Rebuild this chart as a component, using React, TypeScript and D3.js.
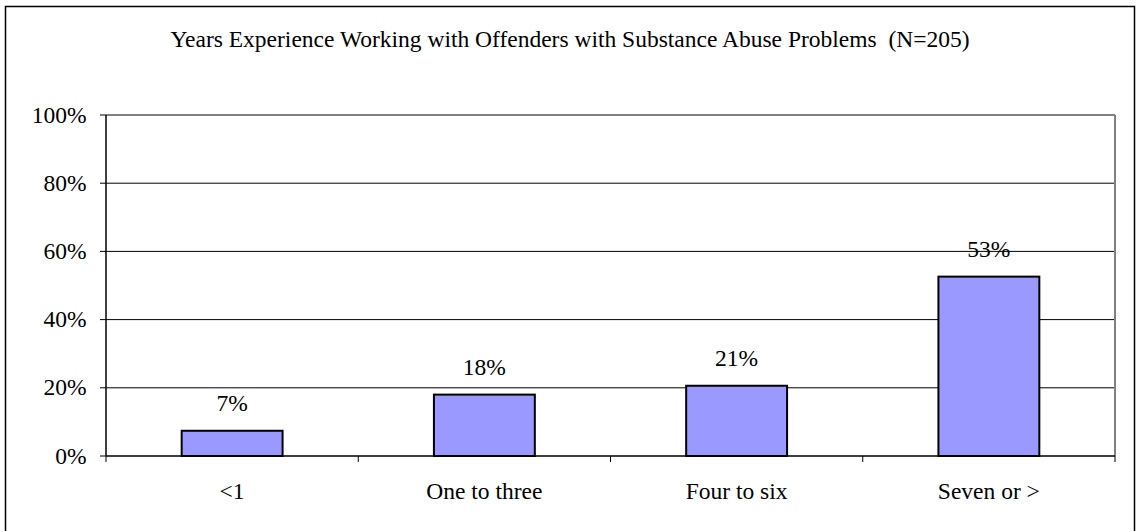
import React, { useEffect } from "react";
import * as d3 from "d3";

const categories = ["<1", "One to three", "Four to six", "Seven or >"];
const values = [7.4, 18.0, 20.6, 52.6];
const valueLabels = ["7%", "18%", "21%", "53%"];
const yTicks = [0, 20, 40, 60, 80, 100];
const title = "Years Experience Working with Offenders with Substance Abuse Problems\u00a0\u00a0(N=205)";

export default function App() {
  useEffect(() => {
    document.body.style.margin = "0";
    document.body.style.overflow = "hidden";
  }, []);
  const W = 1136, H = 531;
  const left = 106, right = 1115, top = 115, bottom = 456;
  const x = d3.scaleBand<string>().domain(categories).range([left, right]).paddingInner(0.6).paddingOuter(0.3);
  const xb = d3.scaleBand<string>().domain(categories).range([left, right]);
  const y = d3.scaleLinear().domain([0, 100]).range([bottom, top]);
  const fs = 23.5;
  const ts = { fontFamily: `"Liberation Serif"` };
  return (
    <svg width={W} height={H}>
      <rect x={0} y={0} width={W} height={H} fill="#fff" />
      <rect x={5.5} y={6.5} width={1129} height={530} fill="none" stroke="#000" strokeWidth={1.5} />
      <text x={570} y={47} textAnchor="middle" fontSize={fs} style={ts}>{title}</text>
      {yTicks.filter(t => t > 0).map(t => (
        <line key={"g" + t} x1={left} x2={right} y1={y(t)} y2={y(t)} stroke="#000" strokeWidth={1} />
      ))}
      <line x1={left} x2={right} y1={top} y2={top} stroke="#808080" strokeWidth={2} />
      <line x1={right} x2={right} y1={top} y2={bottom} stroke="#808080" strokeWidth={2} />
      {categories.map((c, i) => (
        <g key={c}>
          <rect x={x(c)} y={y(values[i])} width={x.bandwidth()} height={bottom - y(values[i])} fill="#9999FF" stroke="#000" strokeWidth={2} />
          <text x={x(c)! + x.bandwidth() / 2} y={y(values[i]) - 19.5} textAnchor="middle" fontSize={fs} style={ts}>{valueLabels[i]}</text>
          <text x={xb(c)! + xb.bandwidth() / 2} y={499} textAnchor="middle" fontSize={fs} style={ts}>{c}</text>
        </g>
      ))}
      <line x1={left} x2={left} y1={top} y2={bottom} stroke="#000" strokeWidth={1.5} />
      <line x1={left} x2={right} y1={bottom} y2={bottom} stroke="#000" strokeWidth={1.5} />
      {yTicks.map(t => (
        <g key={"y" + t}>
          <line x1={left - 6} x2={left} y1={y(t)} y2={y(t)} stroke="#000" strokeWidth={1} />
          <text x={86.5} y={y(t) + 7.5} textAnchor="end" fontSize={fs} style={ts}>{t}%</text>
        </g>
      ))}
      {[...categories.map(c => xb(c)!), right].map((v, i) => (
        <line key={"xt" + i} x1={v} x2={v} y1={bottom} y2={bottom + 6} stroke="#000" strokeWidth={1} />
      ))}
    </svg>
  );
}
